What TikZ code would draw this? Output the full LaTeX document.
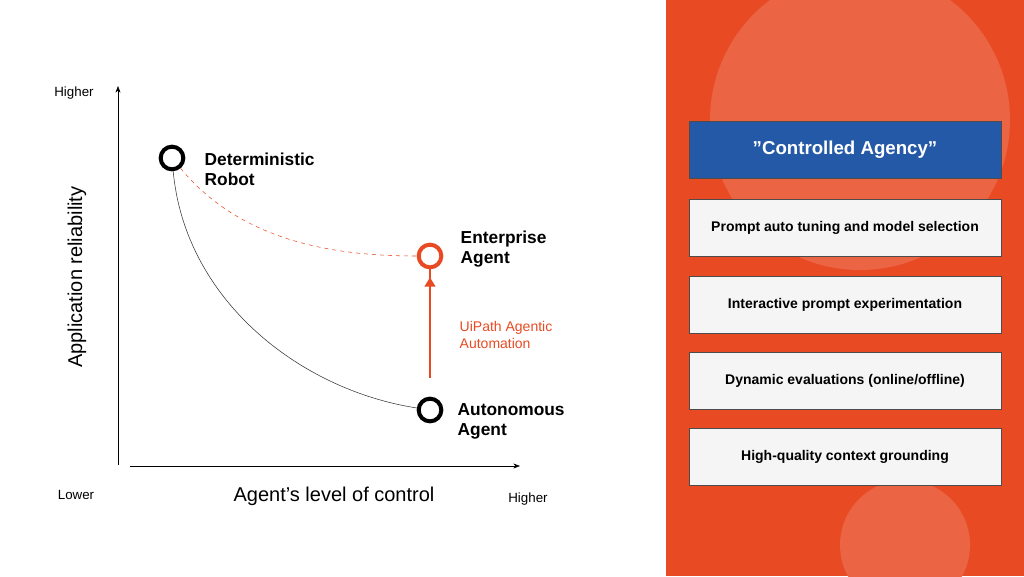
\documentclass[tikz,border=0pt]{standalone}
\usepackage{fontspec}
\setmainfont{Liberation Sans}
\usetikzlibrary{arrows.meta}
\definecolor{orng}{HTML}{E84B24}
\definecolor{lorng}{HTML}{EB6443}
\definecolor{blu}{HTML}{2459A8}
\definecolor{wbox}{HTML}{F5F5F5}
\begin{document}
\begin{tikzpicture}[x=0.75pt,y=-0.75pt,
  pt/.style={circle,draw,line width=3pt,minimum size=17pt,inner sep=0},
  lbl/.style={font=\bfseries\fontsize{13}{15}\selectfont,align=left,anchor=west},
  ax/.style={font=\fontsize{10}{12}\selectfont},
  feat/.style={draw=black!70,fill=wbox,minimum width=234pt,minimum height=43pt,font=\bfseries\fontsize{10.5}{12}\selectfont}]
\useasboundingbox (0,0) rectangle (1024,576);
\fill[white] (0,0) rectangle (1024,576);
\fill[orng] (666,0) rectangle (1024,576);
\begin{scope}
\clip (666,0) rectangle (1024,576);
\fill[lorng] (860,120) circle (150);
\fill[lorng] (905,545) circle (65);
\end{scope}
% axes
\coordinate (o) at (118,466);
\draw[-{Stealth[length=5pt]}] (118,465) -- (118,86);
\draw[-{Stealth[length=5pt]}] (130,466) -- (520,466);
\node[ax] (hy) at (74,93) {Higher};
\node[ax] (lo) at (76,495) {Lower};
\node[ax] (hx) at (528,499) {Higher};
\node[font=\fontsize{15}{18}\selectfont] (xl) at (334,496) {Agent’s level of control};
\node[font=\fontsize{15}{18}\selectfont,rotate=90] (yl) at (77,277) {Application reliability};
% points
\node[pt] (dr) at (172,158) {};
\node[pt,draw=orng] (ea) at (430,256) {};
\node[pt] (aa) at (430,410) {};
\node[lbl] (drl) at (200,169) {Deterministic\\Robot};
\node[lbl] (eal) at (456,249) {Enterprise\\Agent};
\node[lbl] (aal) at (453,421) {Autonomous\\Agent};
\draw[black!80] (dr) .. controls (185,300) and (300,390) .. (aa);
\draw[orng,dashed] (dr) .. controls (240,240) and (330,256) .. (ea);
\draw[orng,line width=2pt,-{Triangle[length=7pt,width=8pt]}] (430,378) -- (ea.south) ++(0,8);
\node[anchor=west,text=orng,align=left,font=\fontsize{10.5}{13}\selectfont] (ui) at (455,335) {UiPath Agentic\\Automation};
% right boxes
\node[draw=black!70,fill=blu,minimum width=234pt,minimum height=43pt,text=white,font=\bfseries\fontsize{14}{16}\selectfont] (ca) at (845,150) {"Controlled Agency"};
\node[feat] (f1) at (845,228) {Prompt auto tuning and model selection};
\node[feat] (f2) at (845,305) {Interactive prompt experimentation};
\node[feat] (f3) at (845,381) {Dynamic evaluations (online/offline)};
\node[feat] (f4) at (845,457) {High-quality context grounding};
\end{tikzpicture}
\end{document}
